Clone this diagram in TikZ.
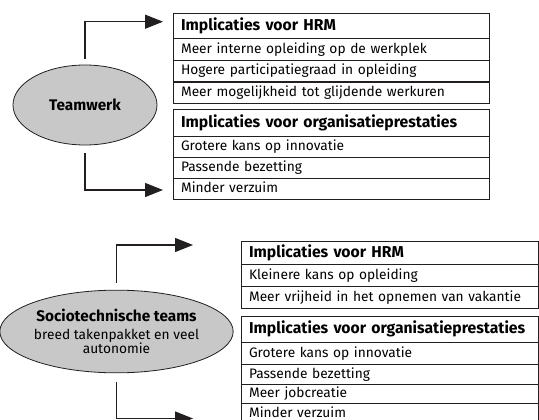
\documentclass[tikz,border=0pt]{standalone}
\usepackage{fontspec}
\setmainfont{Fira Sans}
\usetikzlibrary{shapes.geometric,arrows.meta}
\definecolor{ovalFill}{RGB}{200,200,200}
\definecolor{lineColor}{RGB}{35,31,32}
\newcommand{\rowFont}{\fontsize{10.3}{12}\selectfont}
\newcommand{\headFont}{\fontsize{11.8}{13}\selectfont\bfseries}
\newcommand{\ovalFont}{\fontsize{11.5}{13}\selectfont\bfseries}
\tikzstyle{scheme} = [x = 0.75pt, y = -0.75pt]
\tikzstyle{ovalStyle} = [ellipse, draw=lineColor, fill=ovalFill, line width=0.6pt, inner sep=0pt, align=center, font=\ovalFont]
\tikzstyle{rowStyle} = [draw=lineColor, line width=1.1pt, anchor=north west, inner xsep=5.5pt, inner ysep=0pt, align=left, font=\rowFont, text height=7.3pt, text depth=2.2pt]
\tikzstyle{headStyle} = [rowStyle, font=\headFont, text height=8.3pt]
\tikzstyle{flow} = [draw=lineColor, line width=0.9pt, -{Triangle[length=13.5pt, width=10.5pt]}]
% one row of an implication table: [style]{name}{x,y}{width}{height}{text}
\newcommand{\implRow}[6][rowStyle]{
  \pgfmathsetmacro{\rowWidth}{#4 * 0.75}
  \pgfmathsetmacro{\rowTextWidth}{#4 * 0.75 - 11}
  \node [#1, minimum width=\rowWidth pt, text width=\rowTextWidth pt, minimum height=#5 * 0.75pt] (#2) at (#3) {#6};
}

\begin{document}
\begin{tikzpicture}[scheme]
\useasboundingbox (0,0) rectangle (539,420);
% teamwerk
\node [ovalStyle, minimum width=108pt, minimum height=60pt] (team) at (85,105) {Teamwerk};
\implRow[headStyle]{hrmHead}{173,13}{316}{25}{Implicaties voor HRM}
\implRow{hrmOne}{173,38}{316}{22}{Meer interne opleiding op de werkplek}
\implRow{hrmTwo}{173,60}{316}{21.5}{Hogere participatiegraad in opleiding}
\implRow{hrmThree}{173,81.5}{316}{21.5}{Meer mogelijkheid tot glijdende werkuren}
\implRow[headStyle]{orgHead}{173,109}{316}{27}{Implicaties voor organisatieprestaties}
\implRow{orgOne}{173,136}{316}{21}{Grotere kans op innovatie}
\implRow{orgTwo}{173,157}{316}{21}{Passende bezetting}
\implRow{orgThree}{173,178}{316}{21}{Minder verzuim}
\coordinate (teamHRM) at (163,21.7);
\coordinate (teamOrg) at (163,190);
\draw [flow, shorten <=4.5pt] (team.north) |- (teamHRM);
\draw [flow, shorten <=6pt] (team.south) |- (teamOrg);
% sociotechnische teams
\node [ovalStyle, minimum width=155pt, minimum height=62pt] (socio) at (116.5,331.5)
  {Sociotechnische teams\\[1pt]\mdseries\rowFont breed takenpakket en veel\\[-2.5pt]\mdseries\rowFont autonomie};
\implRow[headStyle]{stHrmHead}{241,241}{297}{23}{Implicaties voor HRM}
\implRow{stHrmOne}{241,264}{297}{22}{Kleinere kans op opleiding}
\implRow{stHrmTwo}{241,286}{297}{22}{Meer vrijheid in het opnemen van vakantie}
\implRow[headStyle]{stOrgHead}{241,316}{297}{26}{Implicaties voor organisatieprestaties}
\implRow{stOrgOne}{241,342}{297}{22}{Grotere kans op innovatie}
\implRow{stOrgTwo}{241,364}{297}{20}{Passende bezetting}
\implRow{stOrgThree}{241,384}{297}{19}{Meer jobcreatie}
\implRow{stOrgFour}{241,403}{297}{21}{Minder verzuim}
\coordinate (socioHRM) at (193,245);
\coordinate (socioOrg) at (193,418.5);
\draw [flow, shorten <=5.25pt] (socio.north) |- (socioHRM);
\draw [flow, shorten <=6.75pt] (socio.south) |- (socioOrg);
\end{tikzpicture}
\end{document}
